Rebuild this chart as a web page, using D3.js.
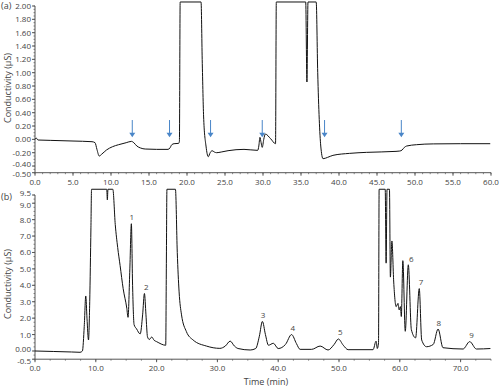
<!DOCTYPE html>
<html>
<head>
<meta charset="utf-8">
<script src="https://cdn.jsdelivr.net/npm/d3@7"></script>
<style>
  body { margin: 0; background: #fff; }
  text { font-family: "Open Sans", "Noto Sans", sans-serif; }
  .tick-label { font-size: 8px; fill: #444; }
  .axis-title { font-size: 9px; fill: #444; }
  .trace { fill: none; stroke: #111; stroke-width: 1; }
</style>
</head>
<body>
<div id="chart"></div>
<script>
// ---- panel (a) data ----
const timeA = [0, 0.15, 0.4, 2, 5, 7.5, 7.9, 8.15, 8.45, 8.8, 9.4, 10.2, 11, 12, 12.7, 13.0, 13.4, 13.9, 14.5, 16, 17.5, 17.75, 18.0, 18.3, 18.9, 19.0,
  19.1, 21.85, 22.0, 22.2, 22.5, 22.8, 23.05, 23.3, 23.6, 23.9, 24.5, 25.4, 27.5, 29.3, 29.45, 29.6, 29.75, 29.9, 30.1, 30.3, 31.0, 31.65, 31.75,
  35.62, 35.78, 35.92, 37.0, 37.2, 37.4, 37.6, 37.9, 38.5, 39.2, 41.4, 43.6, 47.5, 48.0, 48.3, 48.6, 48.9, 50.2, 52.4, 56, 59.9];
const condA = [0.0, 0.02, -0.01, -0.015, -0.025, -0.035, -0.05, -0.15, -0.25, -0.22, -0.16, -0.11, -0.08, -0.05, -0.03, -0.05, -0.1, -0.13, -0.145, -0.15, -0.15, -0.13, -0.08, -0.065, -0.06, -0.03,
  2.06, 2.06, 1.2, 0.3, -0.1, -0.26, -0.2, -0.17, -0.19, -0.2, -0.19, -0.17, -0.15, -0.165, -0.1, 0.03, -0.05, -0.12, 0.0, 0.08, 0.01, -0.065, 2.06,
  2.06, 0.86, 2.06, 2.06, 1.0, 0.3, -0.1, -0.29, -0.27, -0.24, -0.21, -0.195, -0.18, -0.175, -0.16, -0.12, -0.1, -0.08, -0.068, -0.065, -0.065];
const arrowTimes = [12.8, 17.7, 23.1, 29.9, 38.1, 48.2];
const xTicksA = [0, 5, 10, 15, 20, 25, 30, 35, 40, 45, 50, 55, 60];
const yTicksA = [-0.5, -0.4, -0.2, 0, 0.2, 0.4, 0.6, 0.8, 1.0, 1.2, 1.4, 1.6, 1.8, 2.0];
const yTickLabelsA = ["-0.50", "-0.40", "-0.20", "0.00", "0.20", "0.40", "0.60", "0.80", "1.00", "1.20", "1.40", "1.60", "1.80", "2.00"];

// ---- panel (b) data ----
const timeB = [0, 3, 6, 7.4, 7.8, 8.1, 8.35, 8.55, 8.8, 9.0, 9.2, 9.3, 11.8, 11.9, 12.0, 12.8, 13.2, 13.6, 14.0, 14.5, 15.1, 15.3, 15.6, 15.85,
  16.05, 16.3, 16.7, 17.3, 17.7, 18.0, 18.25, 18.5, 18.8, 19.2, 19.6, 20.0, 21.5, 21.6, 21.7, 23.1, 23.4, 23.7, 24.1, 24.9, 26.0, 28.2, 30.4,
  31.3, 32.1, 32.8, 33.4, 35.4, 36.3, 36.9, 37.4, 37.9, 38.4, 39.2, 40.0, 41.2, 42.2, 43.0, 43.6, 45.5, 46.9, 48.2, 49.2, 49.9, 50.7, 51.5,
  55.6, 56.1, 56.3, 56.5, 56.6, 57.6, 57.75, 57.9, 58.3, 58.45, 58.7, 59.0, 59.4, 59.7, 59.9, 60.1, 60.25, 60.5, 60.9, 61.4, 61.9, 62.6, 63.2,
  63.6, 64.4, 65.5, 66.3, 67.1, 70.4, 71.5, 72.6, 74.9];
const condB = [0.0, -0.03, -0.06, -0.08, 0.0, 1.5, 3.35, 2.0, 0.67, 3.0, 7.5, 9.85, 9.85, 9.2, 9.85, 9.85, 7.7, 6.3, 5.2, 3.8, 2.6, 2.05, 5.0, 7.75,
  4.0, 1.6, 1.35, 1.04, 2.2, 3.5, 2.2, 0.87, 0.7, 0.85, 0.65, 0.57, 0.35, 5.0, 9.85, 9.85, 6.0, 3.6, 2.2, 1.18, 0.67, 0.3, 0.16,
  0.3, 0.6, 0.3, 0.15, 0.06, 0.15, 0.9, 1.8, 1.0, 0.35, 0.47, 0.15, 0.4, 1.0, 0.45, 0.1, 0.1, 0.3, 0.06, 0.4, 0.73, 0.35, 0.08,
  0.08, 0.6, 0.15, 0.5, 9.85, 9.85, 5.35, 9.85, 9.85, 4.5, 6.7, 4.2, 2.7, 2.9, 2.5, 2.7, 2.1, 5.5, 1.2, 5.25, 1.3, 0.8, 3.8,
  0.67, 0.26, 0.4, 1.34, 0.2, 0.12, 0.57, 0.12, 0.15];
const peakNames = ["1", "2", "3", "4", "5", "6", "7", "8", "9"];
const peakTimes = [15.9, 18.3, 37.5, 42.4, 50.2, 61.9, 63.5, 66.4, 71.8];
const peakValues = [7.95, 3.7, 2.0, 1.2, 0.95, 5.45, 4.0, 1.55, 0.8];
const xTicksB = [0, 10, 20, 30, 40, 50, 60, 70];
const yTicksB = [-0.5, 0, 1, 2, 3, 4, 5, 6, 7, 8, 9, 9.5];
const yTickLabelsB = ["-0.5", "0.00", "1.0", "2.0", "3.0", "4.0", "5.0", "6.0", "7.0", "8.0", "9.0", "9.5"];

const W = 500, H = 389;
const svg = d3.select("#chart").append("svg").attr("width", W).attr("height", H);
const axisColor = "#555";

// nudge tick labels of close neighbours apart a little (as in the original)
const nudge = (ticks, y) => (d, i) => {
  const prev = i > 0 ? Math.abs(y(ticks[i - 1]) - y(d)) : 99;
  const next = i < ticks.length - 1 ? Math.abs(y(ticks[i + 1]) - y(d)) : 99;
  if (prev < 9) return -1.6;
  if (next < 9) return 1.6;
  return 0;
};

const drawPanel = (opts) => {
  const { x, y, xTicks, xMinor, yTicks, yLabels, yMinor, times, values, label, labelY, titleY } = opts;
  const g = svg.append("g");
  const [x0, x1] = x.range();
  const [yb, yt] = y.range();

  // axis lines
  g.append("line").attr("x1", x0).attr("x2", x0).attr("y1", yb).attr("y2", yt).attr("stroke", axisColor);
  g.append("line").attr("x1", x0).attr("x2", x1).attr("y1", yb).attr("y2", yb).attr("stroke", axisColor);

  // minor ticks
  g.selectAll("line.xminor").data(xMinor).enter().append("line")
    .attr("x1", d => x(d)).attr("x2", d => x(d)).attr("y1", yb).attr("y2", yb + 1.5)
    .attr("stroke", axisColor).attr("stroke-width", 0.7);
  g.selectAll("line.yminor").data(yMinor).enter().append("line")
    .attr("x1", x0 - 1.5).attr("x2", x0).attr("y1", d => y(d)).attr("y2", d => y(d))
    .attr("stroke", axisColor).attr("stroke-width", 0.7);

  // major ticks + labels
  g.selectAll("line.xmajor").data(xTicks).enter().append("line")
    .attr("x1", d => x(d)).attr("x2", d => x(d)).attr("y1", yb).attr("y2", yb + 3)
    .attr("stroke", axisColor);
  g.selectAll("text.xl").data(xTicks).enter().append("text")
    .attr("class", "tick-label").attr("text-anchor", "middle")
    .attr("x", d => x(d)).attr("y", yb + 12).text(d => d.toFixed(1));
  g.selectAll("line.ymajor").data(yTicks).enter().append("line")
    .attr("x1", x0 - 3).attr("x2", x0).attr("y1", d => y(d)).attr("y2", d => y(d))
    .attr("stroke", axisColor);
  const off = nudge(yTicks, y);
  g.selectAll("text.yl").data(yTicks).enter().append("text")
    .attr("class", "tick-label").attr("text-anchor", "end")
    .attr("x", x0 - 4).attr("y", (d, i) => y(d) + 3 + off(d, i)).text((d, i) => yLabels[i]);

  // panel letter
  g.append("text").attr("class", "axis-title").attr("x", 1).attr("y", labelY).text(label);

  // y title
  g.append("text").attr("class", "axis-title").attr("text-anchor", "middle")
    .attr("transform", `translate(11, ${titleY}) rotate(-90)`)
    .text("Conductivity (µS)");

  // trace
  const line = d3.line()
    .x(i => x(times[i]))
    .y(i => y(values[i]))
    .curve(d3.curveMonotoneX);
  g.append("path").attr("class", "trace").attr("d", line(d3.range(times.length)));
  return g;
};

// panel (a)
const xA = d3.scaleLinear().domain([0, 60]).range([35, 491]);
const yA = d3.scaleLinear().domain([-0.5, 2.0]).range([172.7, 6]);
const gA = drawPanel({
  x: xA, y: yA, xTicks: xTicksA, xMinor: d3.range(0, 60.01, 1),
  yTicks: yTicksA, yLabels: yTickLabelsA, yMinor: d3.range(-0.5, 2.01, 0.05),
  times: timeA, values: condA, label: "(a)", labelY: 9, titleY: 88
});

// arrows
const arrowColor = "#4a86c8";
gA.selectAll("line.arrow").data(arrowTimes).enter().append("line")
  .attr("x1", d => xA(d)).attr("x2", d => xA(d))
  .attr("y1", yA(0.29)).attr("y2", yA(0.08))
  .attr("stroke", arrowColor).attr("stroke-width", 1);
gA.selectAll("path.arrowhead").data(arrowTimes).enter().append("path")
  .attr("d", d => `M${xA(d) - 3},${yA(0.1)} L${xA(d) + 3},${yA(0.1)} L${xA(d)},${yA(0.03)} Z`)
  .attr("fill", arrowColor);

// panel (b)
const xB = d3.scaleLinear().domain([0, 75]).range([35, 491]);
const yB = d3.scaleLinear().domain([-0.5, 9.5]).range([359.2, 195]);
const gB = drawPanel({
  x: xB, y: yB, xTicks: xTicksB, xMinor: d3.range(0, 75.01, 2.5),
  yTicks: yTicksB, yLabels: yTickLabelsB, yMinor: d3.range(-0.5, 9.51, 0.25),
  times: timeB, values: condB, label: "(b)", labelY: 200, titleY: 284
});

gB.selectAll("text.peak").data(peakNames).enter().append("text")
  .attr("class", "tick-label").attr("text-anchor", "middle")
  .attr("x", (d, i) => xB(peakTimes[i])).attr("y", (d, i) => yB(peakValues[i]))
  .text(d => d);

svg.append("text").attr("class", "axis-title").attr("text-anchor", "middle")
  .attr("x", 266).attr("y", 385).text("Time (min)");
</script>
</body>
</html>
